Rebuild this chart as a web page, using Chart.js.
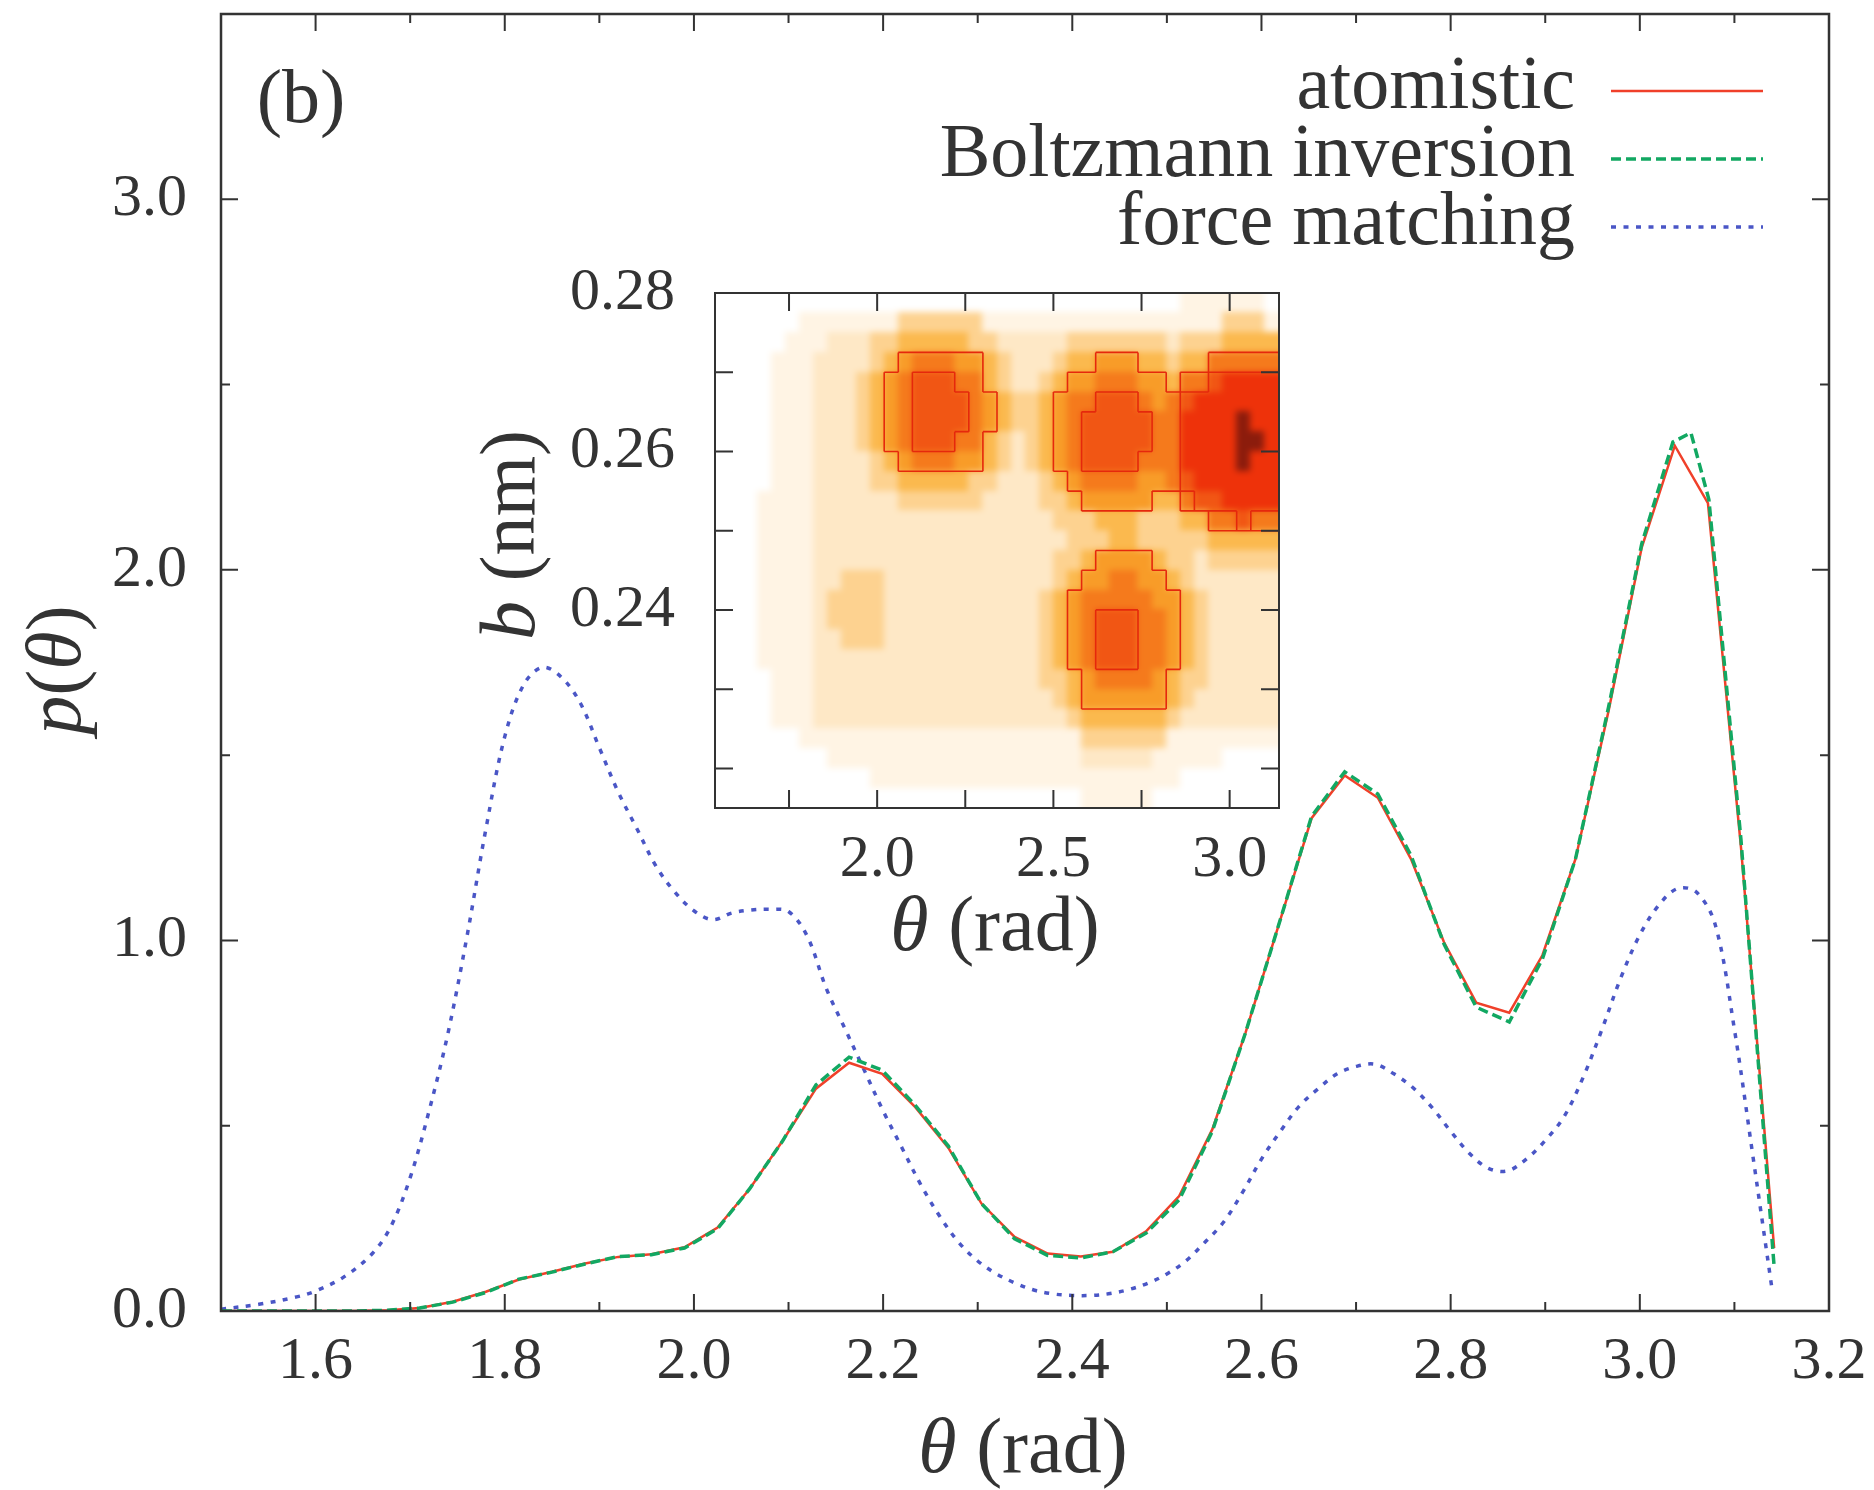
<!DOCTYPE html>
<html>
<head>
<meta charset="utf-8">
<script src="https://cdn.jsdelivr.net/npm/chart.js@4.4.1/dist/chart.umd.min.js"></script>
<style>
  html, body { margin: 0; padding: 0; background: #fff; }
  #wrap { position: relative; width: 1874px; height: 1490px; }
  #main { position: absolute; left: 0; top: 0; }
  #inset { position: absolute; left: 440px; top: 220px; }
</style>
</head>
<body>
<div id="wrap">
  <canvas id="main" width="1874" height="1490"></canvas>
  <canvas id="inset" width="860" height="760"></canvas>
</div>
<script>
// ---- main panel data: p(theta) ----
const thetaAtom = [1.501, 1.536, 1.571, 1.606, 1.641, 1.676, 1.710, 1.745, 1.780, 1.815, 1.850, 1.885,
  1.920, 1.955, 1.990, 2.025, 2.059, 2.094, 2.129, 2.164, 2.199, 2.234, 2.269, 2.304, 2.339, 2.374,
  2.409, 2.443, 2.478, 2.513, 2.548, 2.583, 2.618, 2.653, 2.688, 2.723, 2.758, 2.793, 2.827, 2.862,
  2.897, 2.932, 2.967, 3.002, 3.037, 3.072, 3.107, 3.142];
const pAtom = [0, 0, 0, 0, 0, 0.002, 0.008, 0.025, 0.052, 0.085, 0.106, 0.128,
  0.146, 0.153, 0.172, 0.225, 0.33, 0.46, 0.60, 0.67, 0.64, 0.55, 0.44, 0.29, 0.20, 0.155,
  0.147, 0.16, 0.215, 0.31, 0.49, 0.75, 1.04, 1.33, 1.445, 1.385, 1.22, 0.995, 0.832, 0.805,
  0.96, 1.22, 1.62, 2.06, 2.335, 2.18, 1.25, 0.17];

const thetaBoltz = [1.501, 1.536, 1.571, 1.606, 1.641, 1.676, 1.710, 1.745, 1.780, 1.815, 1.850, 1.885,
  1.920, 1.955, 1.990, 2.025, 2.059, 2.094, 2.129, 2.164, 2.199, 2.234, 2.269, 2.304, 2.339, 2.374,
  2.409, 2.443, 2.478, 2.513, 2.548, 2.583, 2.618, 2.653, 2.688, 2.723, 2.758, 2.793, 2.827, 2.862,
  2.897, 2.932, 2.967, 3.002, 3.035, 3.054, 3.073, 3.107, 3.142];
const pBoltz = [0, 0, 0, 0, 0, 0.002, 0.008, 0.024, 0.05, 0.086, 0.105, 0.127,
  0.147, 0.152, 0.17, 0.222, 0.33, 0.46, 0.61, 0.685, 0.65, 0.555, 0.445, 0.29, 0.195, 0.15,
  0.143, 0.16, 0.21, 0.30, 0.485, 0.75, 1.04, 1.335, 1.455, 1.395, 1.23, 0.99, 0.82, 0.78,
  0.95, 1.22, 1.63, 2.07, 2.345, 2.37, 2.19, 1.27, 0.12];

const thetaFM = [1.50, 1.54, 1.58, 1.60, 1.63, 1.66, 1.68, 1.70, 1.72, 1.74, 1.76, 1.78, 1.80, 1.82,
  1.84, 1.86, 1.88, 1.90, 1.92, 1.94, 1.96, 1.98, 2.00, 2.02, 2.04, 2.06, 2.08, 2.10, 2.12, 2.14,
  2.16, 2.18, 2.20, 2.22, 2.24, 2.26, 2.28, 2.30, 2.32, 2.34, 2.36, 2.38, 2.40, 2.42, 2.44, 2.46,
  2.48, 2.50, 2.52, 2.54, 2.56, 2.58, 2.60, 2.62, 2.64, 2.66, 2.68, 2.70, 2.72, 2.74, 2.76, 2.78,
  2.80, 2.82, 2.84, 2.86, 2.88, 2.90, 2.92, 2.94, 2.96, 2.98, 3.00, 3.02, 3.04, 3.06, 3.08, 3.10,
  3.12, 3.14];
const pFM = [0.005, 0.018, 0.038, 0.054, 0.092, 0.155, 0.23, 0.36, 0.54, 0.75, 1.01, 1.30, 1.55, 1.69,
  1.737, 1.71, 1.64, 1.52, 1.40, 1.30, 1.20, 1.13, 1.08, 1.056, 1.074, 1.082, 1.084, 1.078, 1.01, 0.87,
  0.76, 0.65, 0.54, 0.44, 0.34, 0.255, 0.185, 0.135, 0.10, 0.075, 0.056, 0.046, 0.042, 0.042, 0.047, 0.058,
  0.075, 0.10, 0.135, 0.185, 0.24, 0.32, 0.41, 0.485, 0.553, 0.60, 0.64, 0.66, 0.666, 0.64, 0.603, 0.55,
  0.485, 0.425, 0.385, 0.378, 0.41, 0.46, 0.525, 0.63, 0.76, 0.90, 1.015, 1.095, 1.14, 1.13, 1.04, 0.76,
  0.41, 0.055];

const xTickValues = [1.5, 1.6, 1.7, 1.8, 1.9, 2.0, 2.1, 2.2, 2.3, 2.4, 2.5, 2.6, 2.7, 2.8, 2.9, 3.0, 3.1, 3.2];
const xTickLabels = [1.6, 1.8, 2.0, 2.2, 2.4, 2.6, 2.8, 3.0, 3.2];
const yTickValues = [0, 0.5, 1.0, 1.5, 2.0, 2.5, 3.0, 3.5];
const yTickLabels = [0, 1.0, 2.0, 3.0];

// ---- inset data: 2D histogram of (theta, b), density levels 0..9 ----
const heatTheta = [1.56, 1.60, 1.64, 1.68, 1.72, 1.76, 1.80, 1.84, 1.88, 1.92,
  1.96, 2.00, 2.04, 2.08, 2.12, 2.16, 2.20, 2.24, 2.28, 2.32,
  2.36, 2.40, 2.44, 2.48, 2.52, 2.56, 2.60, 2.64, 2.68, 2.72,
  2.76, 2.80, 2.84, 2.88, 2.92, 2.96, 3.00, 3.04, 3.08, 3.12];
const heatB = [0.27875, 0.27625, 0.27375, 0.27125, 0.26875, 0.26625, 0.26375, 0.26125, 0.25875,
  0.25625, 0.25375, 0.25125, 0.24875, 0.24625, 0.24375, 0.24125, 0.23875, 0.23625, 0.23375,
  0.23125, 0.22875, 0.22625, 0.22375, 0.22125, 0.21875, 0.21625];
const heatBinTheta = 0.04;
const heatBinB = 0.0025;
const heatRows = [
  '0000000000' + '0000000000' + '0000000000' + '0001111110',
  '0000001111' + '1113333331' + '1111111111' + '1111113331',
  '0000011122' + '2334444433' + '2222233333' + '3323334444',
  '0000111222' + '2345666554' + '3222344555' + '4434466666',
  '0000111222' + '3456777664' + '3223455666' + '5546678888',
  '0000111222' + '3456777765' + '4334566777' + '6567888888',
  '0000111222' + '3456777765' + '4334567777' + '7668888988',
  '0000111222' + '3456777664' + '3234567777' + '7668888998',
  '0000111222' + '2345666554' + '3234567777' + '6668888988',
  '0000111222' + '2334444433' + '2223456666' + '5567888888',
  '0001111222' + '2223333332' + '2223345555' + '5446778888',
  '0001111222' + '2222222222' + '2222333444' + '3334466766',
  '0001111222' + '2222222222' + '2222233344' + '3333344444',
  '0001111222' + '2222222222' + '2222334555' + '5433233333',
  '0001111223' + '3322222222' + '2222345566' + '5543222222',
  '0001111233' + '3322222222' + '2223456666' + '6554322222',
  '0001111233' + '3322222222' + '2223456777' + '6654322222',
  '0001111223' + '3322222222' + '2223456777' + '6654322222',
  '0001111222' + '2222222222' + '2223456777' + '6654322222',
  '0000111222' + '2222222222' + '2223345666' + '6543322222',
  '0000111222' + '2222222222' + '2222345555' + '5543222222',
  '0000111222' + '2222222222' + '2222234444' + '4432222222',
  '0000001111' + '1111111111' + '1111113333' + '3311111111',
  '0000000011' + '1111111111' + '1111112222' + '2111110000',
  '0000000000' + '0111111111' + '1111111111' + '1110000000',
  '0000000000' + '0000000000' + '0000001111' + '1000000000'
];
const heatColors = ['#ffffff', '#fff4e4', '#fee8c6', '#fdd290', '#fbb94e', '#f89c28',
  '#f57a1c', '#f15614', '#ee320a', '#8c1c0c'];
const insetXTicks = [1.75, 2.0, 2.25, 2.5, 2.75, 3.0];
const insetXLabels = [2.0, 2.5, 3.0];
const insetYTicks = [0.22, 0.23, 0.24, 0.25, 0.26, 0.27, 0.28];
const insetYLabels = [0.24, 0.26, 0.28];

const FONT = "'Liberation Serif', 'DejaVu Serif', serif";
const INK = '#333333';

function hasValue(list, v) {
  return list.some(l => Math.abs(l - v) < 1e-6);
}

function drawMixed(ctx, parts, x, y, size) {
  // parts: [text, italic] pieces, centred on x
  let total = 0;
  const widths = parts.map(([t, it]) => {
    ctx.font = (it ? 'italic ' : '') + size + 'px ' + FONT;
    const w = ctx.measureText(t).width;
    total += w;
    return w;
  });
  let cx = x - total / 2;
  ctx.textAlign = 'left';
  ctx.textBaseline = 'alphabetic';
  parts.forEach(([t, it], i) => {
    ctx.font = (it ? 'italic ' : '') + size + 'px ' + FONT;
    ctx.fillText(t, cx, y);
    cx += widths[i];
  });
}

function frameTicks(major, minor, frameWidth) {
  return {
    id: 'frameTicks',
    afterDatasetsDraw(chart) {
      const { ctx, chartArea: a, scales: { x, y } } = chart;
      ctx.save();
      ctx.strokeStyle = INK;
      ctx.lineWidth = 2;
      ctx.beginPath();
      x.ticks.forEach(t => {
        const px = x.getPixelForValue(t.value);
        const len = t.label ? major : minor;
        ctx.moveTo(px, a.bottom); ctx.lineTo(px, a.bottom - len);
        ctx.moveTo(px, a.top); ctx.lineTo(px, a.top + len);
      });
      y.ticks.forEach(t => {
        const py = y.getPixelForValue(t.value);
        const len = t.label ? major : minor;
        ctx.moveTo(a.left, py); ctx.lineTo(a.left + len, py);
        ctx.moveTo(a.right, py); ctx.lineTo(a.right - len, py);
      });
      ctx.stroke();
      ctx.lineWidth = frameWidth;
      ctx.strokeRect(a.left, a.top, a.right - a.left, a.bottom - a.top);
      ctx.restore();
    }
  };
}

// fixed axis boxes so the plot areas land where they should
const fixX = h => s => { s.height = h; s.paddingLeft = 0; s.paddingRight = 0; };
const fixY = w => s => { s.width = w; s.paddingTop = 0; s.paddingBottom = 0; };

// ---- main chart ----
const legendLineY = [91, 159, 227];

const sideLegend = {
  id: 'sideLegend',
  afterDatasetsDraw(chart) {
    const ctx = chart.ctx;
    ctx.save();
    chart.data.datasets.forEach((ds, i) => {
      const y = legendLineY[i];
      ctx.font = '76px ' + FONT;
      ctx.fillStyle = INK;
      ctx.textAlign = 'right';
      ctx.textBaseline = 'alphabetic';
      ctx.fillText(ds.label, 1575, y + 17);
      ctx.strokeStyle = ds.borderColor;
      ctx.lineWidth = ds.borderWidth;
      ctx.setLineDash(ds.borderDash || []);
      ctx.beginPath();
      ctx.moveTo(1611, y);
      ctx.lineTo(1763, y);
      ctx.stroke();
    });
    ctx.restore();
  }
};

const mainTitles = {
  id: 'mainTitles',
  afterDraw(chart) {
    const ctx = chart.ctx;
    ctx.save();
    ctx.fillStyle = INK;
    drawMixed(ctx, [['θ', true], [' (rad)', false]], 1023, 1472, 78);
    drawMixed(ctx, [['(b)', false]], 301, 122, 76);
    ctx.translate(80, 670);
    ctx.rotate(-Math.PI / 2);
    drawMixed(ctx, [['p', true], ['(', false], ['θ', true], [')', false]], 0, 0, 78);
    ctx.restore();
  }
};

const toPoints = (xs, ys) => xs.map((x, i) => ({ x: x, y: ys[i] }));

new Chart(document.getElementById('main'), {
  type: 'line',
  data: {
    datasets: [
      {
        label: 'atomistic',
        data: toPoints(thetaAtom, pAtom),
        borderColor: '#f0402a',
        borderWidth: 2.5,
        tension: 0,
        order: 1
      },
      {
        label: 'Boltzmann inversion',
        data: toPoints(thetaBoltz, pBoltz),
        borderColor: '#12a862',
        borderWidth: 3.5,
        borderDash: [10, 5],
        tension: 0,
        order: 0
      },
      {
        label: 'force matching',
        data: toPoints(thetaFM, pFM),
        borderColor: '#4a56c6',
        borderWidth: 3.5,
        borderDash: [5, 7.5],
        tension: 0.35,
        order: 2
      }
    ]
  },
  options: {
    responsive: false,
    animation: false,
    layout: { padding: { left: 0, right: 45, top: 14, bottom: 0 } },
    elements: { point: { radius: 0 } },
    plugins: { legend: { display: false }, tooltip: { enabled: false } },
    scales: {
      x: {
        type: 'linear', min: 1.5, max: 3.2,
        grid: { display: false, drawTicks: false },
        border: { display: false },
        afterBuildTicks: s => { s.ticks = xTickValues.map(v => ({ value: v })); },
        afterFit: fixX(179),
        ticks: {
          autoSkip: false, maxRotation: 0, padding: 15, color: INK,
          font: { family: FONT, size: 60 },
          callback: v => hasValue(xTickLabels, v) ? v.toFixed(1) : ''
        }
      },
      y: {
        type: 'linear', min: 0, max: 3.5,
        grid: { display: false, drawTicks: false },
        border: { display: false },
        afterBuildTicks: s => { s.ticks = yTickValues.map(v => ({ value: v })); },
        afterFit: fixY(221),
        ticks: {
          autoSkip: false, padding: 34, color: INK,
          font: { family: FONT, size: 60 },
          callback: v => hasValue(yTickLabels, v) ? v.toFixed(1) : ''
        }
      }
    }
  },
  plugins: [frameTicks(17, 9, 2.5), sideLegend, mainTitles]
});

// ---- inset chart ----
const heatCells = [];
heatRows.forEach((row, r) => {
  for (let c = 0; c < heatTheta.length; c++) {
    heatCells.push({ x: heatTheta[c], y: heatB[r], v: +row[c], r: r, c: c });
  }
});

const heatmap = {
  id: 'heatmap',
  beforeDatasetsDraw(chart) {
    const { ctx, chartArea: a, scales: { x, y } } = chart;
    const lastC = heatTheta.length - 1, lastR = heatB.length - 1;
    const m = 24;
    // paint the cells on a scratch canvas first, then soften them once
    const off = document.createElement('canvas');
    off.width = Math.ceil(a.right - a.left) + 2 * m;
    off.height = Math.ceil(a.bottom - a.top) + 2 * m;
    const oc = off.getContext('2d');
    oc.fillStyle = '#ffffff';
    oc.fillRect(0, 0, off.width, off.height);
    const cells = chart.data.datasets[0].data;
    cells.forEach(d => {
      let x0 = x.getPixelForValue(d.x - heatBinTheta / 2) - a.left + m;
      let x1 = x.getPixelForValue(d.x + heatBinTheta / 2) - a.left + m;
      let y0 = y.getPixelForValue(d.y + heatBinB / 2) - a.top + m;
      let y1 = y.getPixelForValue(d.y - heatBinB / 2) - a.top + m;
      if (d.c === 0) x0 -= m;
      if (d.c === lastC) x1 += m;
      if (d.r === 0) y0 -= m;
      if (d.r === lastR) y1 += m;
      oc.fillStyle = heatColors[d.v];
      oc.fillRect(Math.floor(x0), Math.floor(y0), Math.ceil(x1 - x0) + 1, Math.ceil(y1 - y0) + 1);
    });
    ctx.save();
    ctx.beginPath();
    ctx.rect(a.left, a.top, a.right - a.left, a.bottom - a.top);
    ctx.clip();
    ctx.filter = 'blur(3px)';
    ctx.drawImage(off, a.left - m, a.top - m);
    ctx.filter = 'none';
    // contour lines along cell edges where the level crosses a threshold
    ctx.strokeStyle = '#e5280c';
    ctx.lineWidth = 1.6;
    ctx.beginPath();
    [5, 7].forEach(L => {
      cells.forEach(d => {
        const inside = d.v >= L;
        const right = d.c < lastC ? +heatRows[d.r][d.c + 1] >= L : inside;
        const below = d.r < lastR ? +heatRows[d.r + 1][d.c] >= L : inside;
        const xe = x.getPixelForValue(d.x + heatBinTheta / 2);
        const xs = x.getPixelForValue(d.x - heatBinTheta / 2);
        const yt = y.getPixelForValue(d.y + heatBinB / 2);
        const yb = y.getPixelForValue(d.y - heatBinB / 2);
        if (right !== inside) { ctx.moveTo(xe, yt); ctx.lineTo(xe, yb); }
        if (below !== inside) { ctx.moveTo(xs, yb); ctx.lineTo(xe, yb); }
      });
    });
    ctx.stroke();
    ctx.restore();
  }
};

const insetTitles = {
  id: 'insetTitles',
  afterDraw(chart) {
    const ctx = chart.ctx;
    ctx.save();
    ctx.fillStyle = INK;
    drawMixed(ctx, [['θ', true], [' (rad)', false]], 555, 730, 78);
    ctx.translate(94, 315);
    ctx.rotate(-Math.PI / 2);
    drawMixed(ctx, [['b', true], [' (nm)', false]], 0, 0, 78);
    ctx.restore();
  }
};

new Chart(document.getElementById('inset'), {
  type: 'scatter',
  data: {
    datasets: [{ label: 'density', data: heatCells, pointRadius: 0, showLine: false }]
  },
  options: {
    responsive: false,
    animation: false,
    layout: { padding: { left: 0, right: 21, top: 73, bottom: 0 } },
    plugins: { legend: { display: false }, tooltip: { enabled: false } },
    scales: {
      x: {
        type: 'linear', min: 1.54, max: 3.14,
        grid: { display: false, drawTicks: false },
        border: { display: false },
        afterBuildTicks: s => { s.ticks = insetXTicks.map(v => ({ value: v })); },
        afterFit: fixX(172),
        ticks: {
          autoSkip: false, maxRotation: 0, padding: 16, color: INK,
          font: { family: FONT, size: 60 },
          callback: v => hasValue(insetXLabels, v) ? v.toFixed(1) : ''
        }
      },
      y: {
        type: 'linear', min: 0.215, max: 0.28,
        grid: { display: false, drawTicks: false },
        border: { display: false },
        afterBuildTicks: s => { s.ticks = insetYTicks.map(v => ({ value: v })); },
        afterFit: fixY(275),
        ticks: {
          autoSkip: false, padding: 40, color: INK,
          font: { family: FONT, size: 60 },
          callback: v => hasValue(insetYLabels, v) ? v.toFixed(2) : ''
        }
      }
    }
  },
  plugins: [heatmap, frameTicks(18, 18, 2), insetTitles]
});
</script>
</body>
</html>
